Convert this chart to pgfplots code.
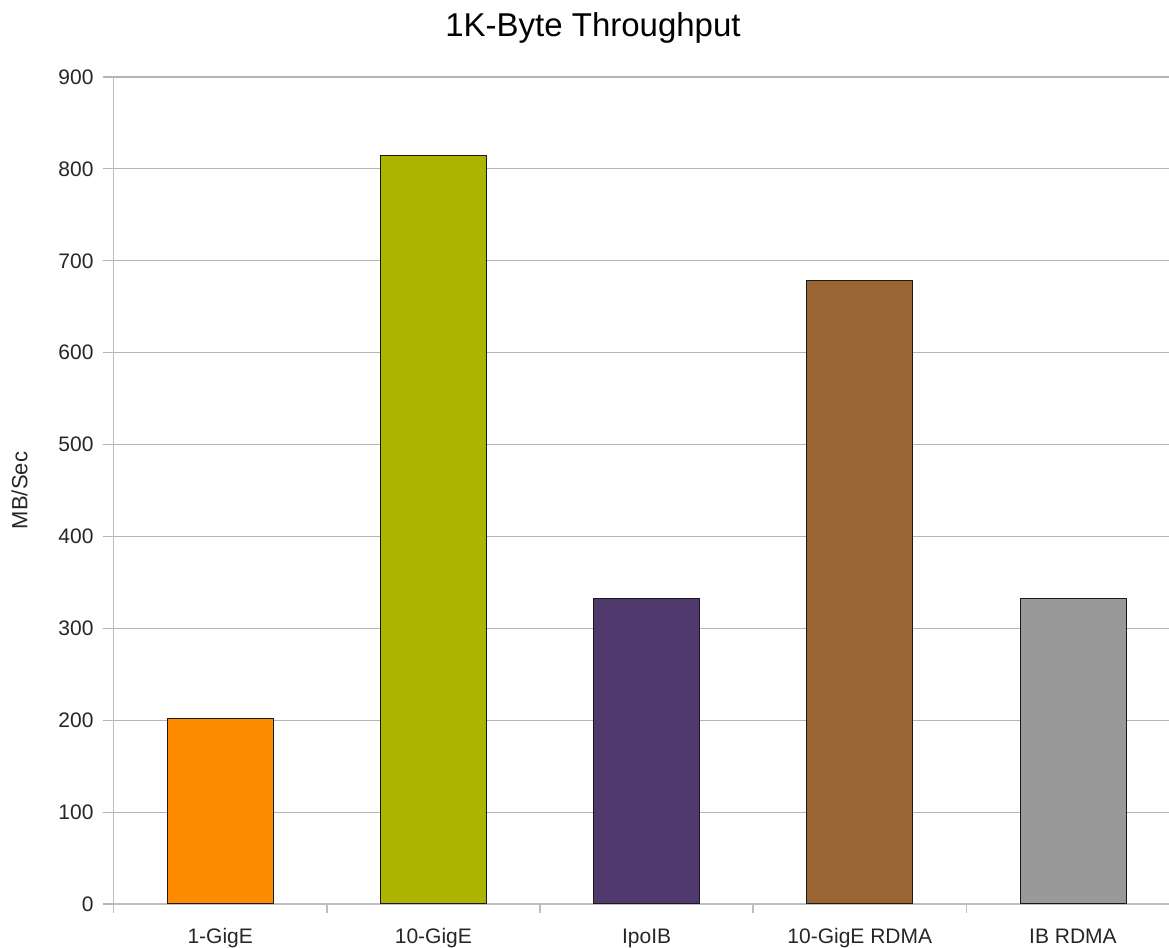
\documentclass[border=0pt]{standalone}
\usepackage{pgfplots}
\pgfplotsset{compat=1.18}
\usepackage{fontspec}
\setmainfont{Liberation Sans}
\definecolor{cOrange}{RGB}{255,140,0}
\definecolor{cOlive}{RGB}{172,180,0}
\definecolor{cPurple}{RGB}{79,57,109}
\definecolor{cBrown}{RGB}{153,102,51}
\definecolor{cGray}{RGB}{153,153,153}
\definecolor{gridc}{RGB}{180,180,180}
\definecolor{axc}{RGB}{190,190,190}
\begin{document}
\begin{tikzpicture}
\path[use as bounding box] (0,0) rectangle (584.5pt,474pt);
\node[font=\fontsize{16.5}{19}\selectfont] at (296.5pt,460pt) {1K-Byte Throughput};
\begin{axis}[
  at={(56.8pt,22pt)}, anchor=south west,
  scale only axis, width=533pt, height=413.5pt,
  xmin=-0.5, xmax=4.5, ymin=0, ymax=900,
  ytick={0,100,...,900},
  xtick={0,1,2,3,4},
  xticklabels={1-GigE,10-GigE,IpoIB,10-GigE RDMA,IB RDMA},
  minor xtick={-0.5,0.5,1.5,2.5,3.5},
  major x tick style={draw=none},
  minor x tick style={draw=axc, line width=0.8pt},
  minor tick length=4.5pt,
  tick align=outside,
  ytick style={draw=gridc, line width=0.6pt},
  major tick length=5.5pt,
  axis x line*=bottom, axis y line*=left,
  axis line style={draw=axc, line width=0.8pt, -},
  ymajorgrids, major grid style={draw=gridc, line width=0.6pt},
  tick label style={font=\fontsize{10.5}{12}\selectfont, text=black!85},
  /pgf/number format/assume math mode=true,
  xticklabel style={text height=0.72em, text depth=0.22em, yshift=-3.5pt},
  yticklabel style={xshift=-1pt},
  ylabel={MB/Sec}, ylabel style={font=\fontsize{11}{13}\selectfont, text=black!85, at={(-47pt,0.5)}, anchor=center},
  ybar, bar width=53pt, bar shift=0pt,
  every axis plot/.append style={draw=black!90, line width=0.5pt},
  clip=false,
]
\addplot[fill=cOrange] coordinates {(0,202)};
\addplot[fill=cOlive] coordinates {(1,815)};
\addplot[fill=cPurple] coordinates {(2,332)};
\addplot[fill=cBrown] coordinates {(3,679)};
\addplot[fill=cGray] coordinates {(4,333)};
\end{axis}
\end{tikzpicture}
\end{document}
